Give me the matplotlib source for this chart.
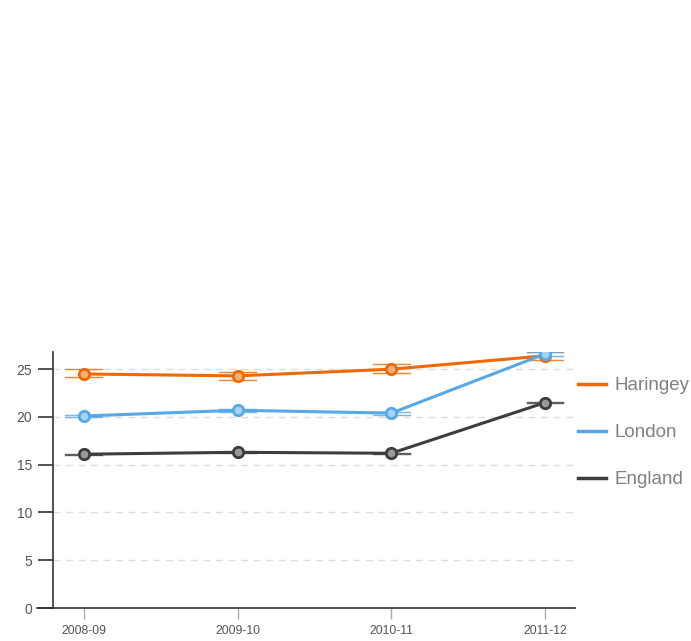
import matplotlib.pyplot as plt
import numpy as np
from matplotlib.lines import Line2D

plt.rcParams['font.family'] = ['Liberation Sans', 'DejaVu Sans']

years = ['2008-09', '2009-10', '2010-11', '2011-12']
haringey = [24.5, 24.3, 25.0, 26.4]
haringey_lo = [24.15, 23.9, 24.6, 25.95]
haringey_hi = [25.0, 24.7, 25.5, 26.8]
london = [20.1, 20.7, 20.4, 26.6]
london_lo = [19.95, 20.55, 20.25, 26.4]
london_hi = [20.25, 20.85, 20.55, 26.8]
england = [16.1, 16.3, 16.2, 21.5]
england_lo = [16.05, 16.25, 16.15, 21.45]
england_hi = [16.15, 16.35, 16.25, 21.55]

series = [
    ('Haringey', haringey, haringey_lo, haringey_hi, '#f06800', '#f7b07a'),
    ('London', london, london_lo, london_hi, '#55a8ea', '#a8d2f4'),
    ('England', england, england_lo, england_hi, '#3d3d3d', '#9a9a9a'),
]

fig = plt.figure(figsize=(6.91, 6.41), dpi=100)
ax = fig.add_axes([53/691, 1-608/641, (575-53)/691, (608-352)/641])

x = np.arange(len(years))
for name, vals, lo, hi, col, light in series:
    # confidence interval caps
    for xi, l, h in zip(x, lo, hi):
        ax.plot([xi-0.12, xi+0.12], [l, l], color=col, lw=1, alpha=0.8, zorder=2)
        ax.plot([xi-0.12, xi+0.12], [h, h], color=col, lw=1, alpha=0.8, zorder=2)
    ax.plot(x, vals, color=col, lw=2.2, zorder=3, label=name)
    ax.plot(x, vals, 'o', ms=7.5, mfc=light, mec=col, mew=2, zorder=4)

ax.set_xlim(-0.2, 3.195)
ax.set_ylim(0, 26.8)
ax.set_yticks([0, 5, 10, 15, 20, 25])
ax.set_xticks(x)
ax.set_xticklabels(years)
for yv in [5, 10, 15, 20, 25]:
    ax.axhline(yv, color='#dddddd', lw=1, ls=(0, (5, 4)), zorder=1)

for s in ['top', 'right']:
    ax.spines[s].set_visible(False)
ax.spines['left'].set_color('#333333')
ax.spines['bottom'].set_color('#333333')
ax.spines['left'].set_linewidth(1.2)
ax.spines['bottom'].set_linewidth(1.2)
ax.add_line(Line2D([-0.03, 0], [0, 0], transform=ax.transAxes, color='#333333',
                   lw=1.2, clip_on=False))

ax.tick_params(axis='y', length=11, width=1.2, color='#333333', labelsize=10,
               labelcolor='#555555', pad=4)
ax.tick_params(axis='x', length=8, width=1, color='#aaaaaa', labelsize=8.8,
               labelcolor='#555555', pad=4, direction='out')

handles = [Line2D([0], [0], color=c, lw=2.5) for _, _, _, _, c, _ in series]
leg = fig.legend(handles, [s[0] for s in series], loc='upper left',
                 bbox_to_anchor=(578/691, 1-377/641), frameon=False,
                 borderpad=0, borderaxespad=0,
                 fontsize=13.5, handlelength=1.5, handletextpad=0.43,
                 labelspacing=1.6, labelcolor='#808080')

plt.savefig('out.png', dpi=100)
